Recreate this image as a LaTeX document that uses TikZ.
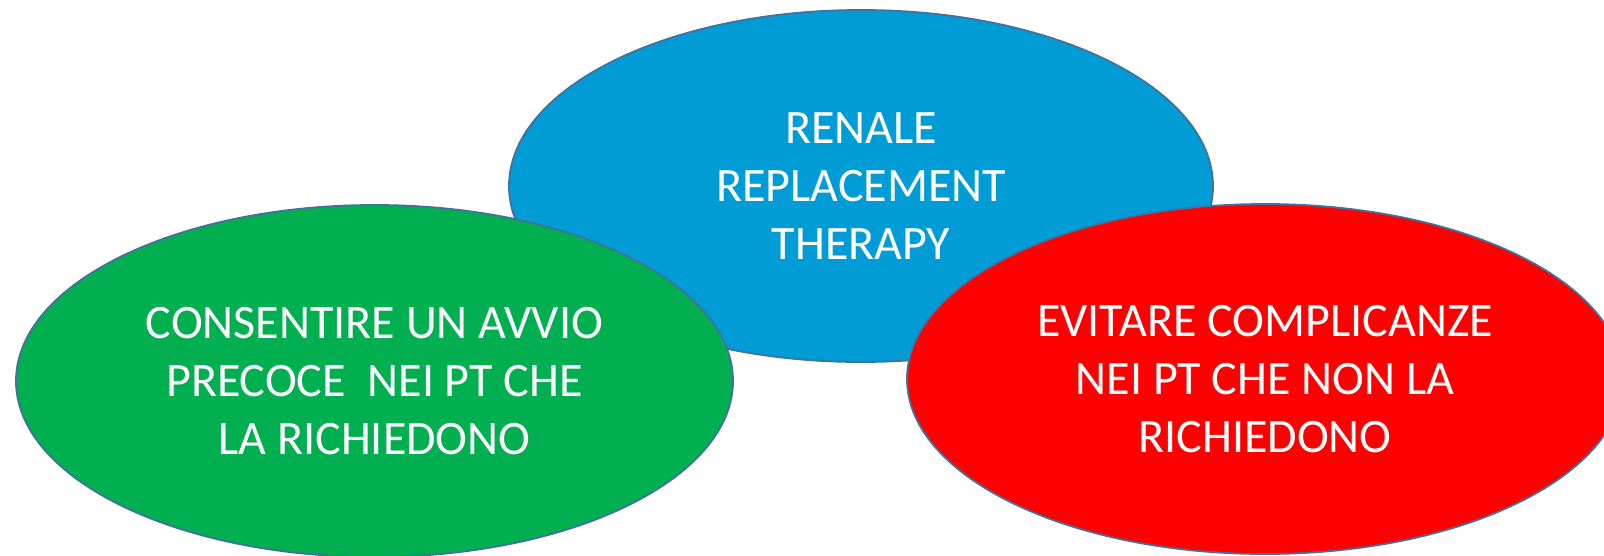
\documentclass[tikz,border=0pt]{standalone}
\usepackage{fontspec}
\setmainfont{Carlito}
\usetikzlibrary{shapes.geometric}
\definecolor{blueFill}{HTML}{009CD6}
\definecolor{greenFill}{HTML}{00B050}
\definecolor{redFill}{HTML}{FF0000}
\definecolor{edgeCol}{HTML}{41719C}
\tikzset{
  bubble/.style={ellipse, draw=edgeCol, line width=1.8pt, inner sep=0pt,
    text=white, align=center, font=\fontsize{48}{58}\selectfont},
}
\begin{document}
\begin{tikzpicture}[x=1pt,y=-1pt]
\clip (0,0) rectangle (1604,555);
\fill[white] (0,0) rectangle (1604,555);
\node[bubble, fill=blueFill, minimum width=704pt, minimum height=352pt] (rrt) at (861,186)
  {RENALE\\REPLACEMENT\\THERAPY};
\node[bubble, fill=greenFill, minimum width=717pt, minimum height=352pt] (avvio) at (374.5,381)
  {CONSENTIRE UN AVVIO\\PRECOCE\ \ NEI PT CHE\\LA RICHIEDONO};
\node[bubble, fill=redFill, minimum width=716pt, minimum height=350pt] (compl) at (1265,379)
  {EVITARE COMPLICANZE\\NEI PT CHE NON LA\\RICHIEDONO};
\end{tikzpicture}
\end{document}
